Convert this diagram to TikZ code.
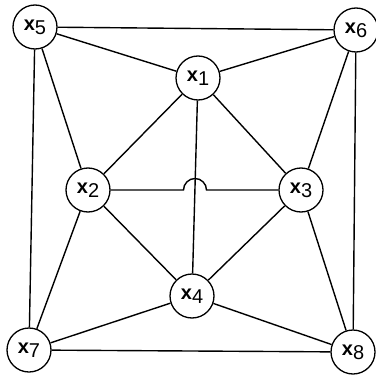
\documentclass[tikz,border=0pt]{standalone}
\usepackage{fontspec}
\setmainfont{Liberation Sans}
\tikzset{
  vert/.style={circle,draw,line width=1.3pt,fill=white,minimum size=44pt,inner sep=0pt,font=\fontsize{20}{20}\selectfont},
  edge/.style={line width=1.4pt}
}
\newcommand{\lbl}[1]{\textbf{x}\raisebox{-0.4ex}{#1}}
\begin{document}
\begin{tikzpicture}[x=1pt,y=-1pt]
\useasboundingbox (0,0) rectangle (375,377);
\node[vert] (x5) at (35,27) {\lbl{5}};
\node[vert] (x6) at (356,30) {\lbl{6}};
\node[vert] (x1) at (198,78) {\lbl{1}};
\node[vert] (x2) at (88,190) {\lbl{2}};
\node[vert] (x3) at (301,190) {\lbl{3}};
\node[vert] (x4) at (192,296) {\lbl{4}};
\node[vert] (x7) at (29,350) {\lbl{7}};
\node[vert] (x8) at (353,352) {\lbl{8}};
\coordinate (cr) at (195,190);
\draw[edge] (x5) -- (x6);
\draw[edge] (x5) -- (x1);
\draw[edge] (x5) -- (x2);
\draw[edge] (x5) -- (x7);
\draw[edge] (x6) -- (x1);
\draw[edge] (x6) -- (x3);
\draw[edge] (x6) -- (x8);
\draw[edge] (x1) -- (x2);
\draw[edge] (x1) -- (x3);
\draw[edge] (x1) -- (x4);
\draw[edge] (x2) -- ([xshift=-11.5pt]cr) arc[start angle=180,end angle=0,radius=11.5pt] -- (x3);
\draw[edge] (x2) -- (x4);
\draw[edge] (x2) -- (x7);
\draw[edge] (x3) -- (x4);
\draw[edge] (x3) -- (x8);
\draw[edge] (x4) -- (x7);
\draw[edge] (x4) -- (x8);
\draw[edge] (x7) -- (x8);
\end{tikzpicture}
\end{document}
